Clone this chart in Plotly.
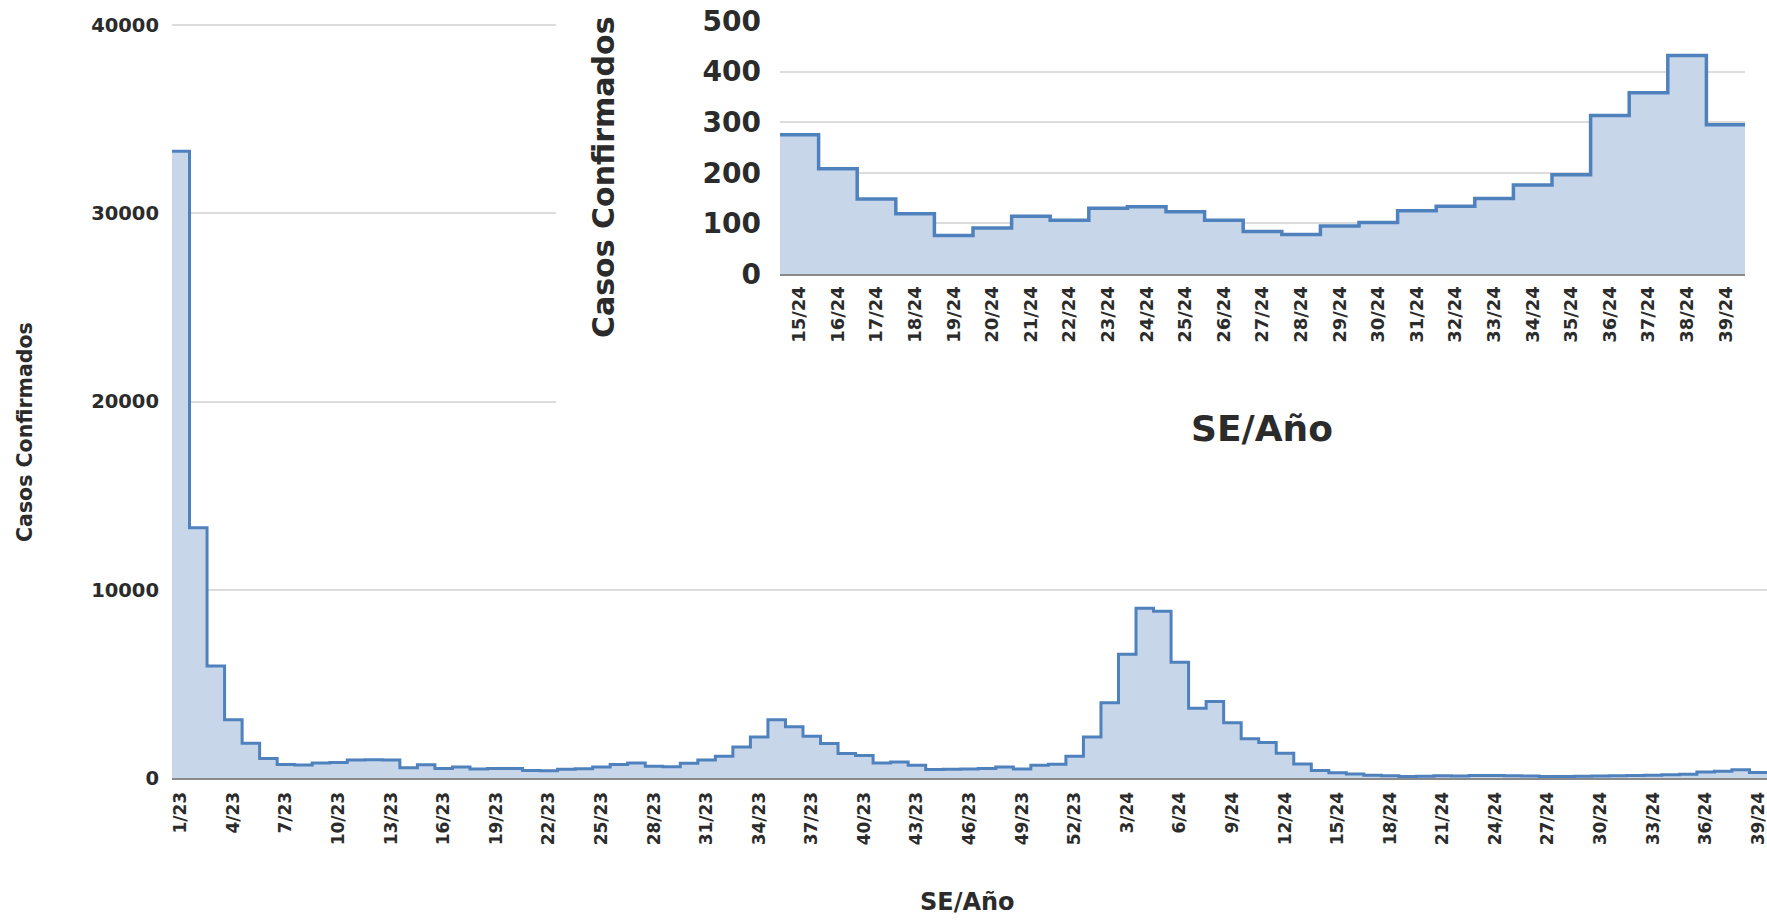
import plotly.graph_objects as go

# ---------------- data ----------------
semanas_2023 = [f"{w}/23" for w in range(1, 53)]
semanas_2024 = [f"{w}/24" for w in range(1, 40)]
semanas = semanas_2023 + semanas_2024

casos_main = [
    33300, 13300, 5950, 3100, 1850, 1030, 720, 690, 800, 830,
    960, 970, 950, 540, 710, 510, 590, 480, 500, 500,
    400, 390, 470, 490, 580, 720, 800, 620, 600, 780,
    960, 1150, 1650, 2180, 3100, 2720, 2220, 1830, 1300, 1200,
    800, 850, 675, 450, 470, 480, 500, 590, 480, 680,
    730, 1150, 2180, 4000, 6580, 9020, 8860, 6150, 3710, 4060,
    2940, 2080, 1880, 1320, 740, 400, 275, 208, 148, 119,
    76, 91, 114, 106, 130, 133, 123, 106, 84, 78,
    95, 102, 125, 134, 149, 176, 196, 313, 358, 432,
    295,
]

semanas_inset = [f"{w}/24" for w in range(15, 40)]
casos_inset = [
    275, 208, 148, 119, 76, 91, 114, 106, 130, 133,
    123, 106, 84, 78, 95, 102, 125, 134, 149, 176,
    196, 313, 358, 432, 295,
]

main_ticks = list(range(0, len(semanas), 3))
main_ticktext = [semanas[i] for i in main_ticks]

# ---------------- style ----------------
LINE = "#4F81BD"
FILL = "#C8D6EA"
GRID = "#DCDCDC"
TXT = "#2b2b2b"
FONT = "DejaVu Sans"

W, H = 1767, 923
L, R, T = 172, 0, 20
B = H - 778
YMAX = 40000 * (778 - T) / (778 - 25)


def step_xy(vals):
    n = len(vals)
    xs = [i - 0.5 for i in range(n)] + [n - 0.5]
    ys = list(vals) + [vals[-1]]
    return xs, ys


def px_x(p):
    return (p - L) / (W - L - R)


def px_y(p):
    return (H - B - p) / (H - B - T)


def dom(a, b):
    return [max(0.0, min(1.0, a)), max(0.0, min(1.0, b))]


fig = go.Figure()

mx, my = step_xy(casos_main)
fig.add_trace(go.Scatter(
    x=mx, y=my, mode="lines", line=dict(color=LINE, width=3, shape="hv"),
    fill="tozeroy", fillcolor=FILL, showlegend=False, hoverinfo="skip",
    xaxis="x", yaxis="y"))

# blank white panel (chart area of the inset) covering the main gridlines
fig.add_trace(go.Scatter(x=[None], y=[None], mode="lines", showlegend=False,
                         hoverinfo="skip", xaxis="x2", yaxis="y2"))

ix, iy = step_xy(casos_inset)
fig.add_trace(go.Scatter(
    x=ix, y=iy, mode="lines", line=dict(color=LINE, width=3.5, shape="hv"),
    fill="tozeroy", fillcolor=FILL, showlegend=False, hoverinfo="skip",
    xaxis="x3", yaxis="y3"))

fig.update_layout(
    width=W, height=H,
    margin=dict(l=L, r=R, t=T, b=B),
    paper_bgcolor="white", plot_bgcolor="white",
    showlegend=False,
    xaxis=dict(
        domain=[0, 1], range=[-0.5, len(semanas) - 0.5], tickmode="array",
        tickvals=main_ticks, ticktext=main_ticktext, tickangle=-90,
        showgrid=False, zeroline=False, showline=True, linecolor="#8a8a8a",
        linewidth=2, ticks="", ticklabelstandoff=5, ticklabeloverflow="allow",
        tickfont=dict(family=FONT, size=17, color=TXT, weight="bold"),
    ),
    yaxis=dict(
        domain=[0, 1], range=[0, YMAX], tickvals=[0, 10000, 20000, 30000, 40000],
        tickformat="d", showgrid=True, gridcolor=GRID, gridwidth=2,
        zeroline=False, showline=False, ticks="", ticklabelstandoff=12,
        ticklabeloverflow="allow",
        tickfont=dict(family=FONT, size=19.5, color=TXT, weight="bold"),
    ),
    xaxis2=dict(domain=dom(px_x(556), 1), visible=False, range=[0, 1], fixedrange=True),
    yaxis2=dict(domain=dom(px_y(480), 1), visible=False, range=[0, 1], fixedrange=True),
    xaxis3=dict(
        domain=dom(px_x(780), px_x(1745)), anchor="y3",
        range=[-0.5, len(semanas_inset) - 0.5], tickmode="array",
        tickvals=list(range(len(semanas_inset))), ticktext=semanas_inset,
        tickangle=-90, showgrid=False, zeroline=False, showline=True,
        linecolor="#8a8a8a", linewidth=2, ticks="", ticklabelstandoff=3,
        ticklabeloverflow="allow",
        tickfont=dict(family=FONT, size=18, color=TXT, weight="bold"),
    ),
    yaxis3=dict(
        domain=dom(px_y(274), px_y(21)), anchor="x3", range=[0, 500],
        tickvals=[0, 100, 200, 300, 400, 500], showgrid=True, gridcolor=GRID,
        gridwidth=2, zeroline=False, showline=False, ticks="",
        ticklabelstandoff=18, ticklabeloverflow="allow",
        tickfont=dict(family=FONT, size=28, color=TXT, weight="bold"),
    ),
    annotations=[
        dict(text="Casos Confirmados", xref="paper", yref="paper",
             x=px_x(25), y=px_y(432), xanchor="center", yanchor="middle",
             textangle=-90, showarrow=False,
             font=dict(family=FONT, size=20.5, color=TXT, weight="bold")),
        dict(text="SE/Año", xref="paper", yref="paper",
             x=px_x(967), y=px_y(902), xanchor="center", yanchor="middle",
             showarrow=False,
             font=dict(family=FONT, size=24, color=TXT, weight="bold")),
        dict(text="Casos Confirmados", xref="paper", yref="paper",
             x=px_x(604), y=px_y(177), xanchor="center", yanchor="middle",
             textangle=-90, showarrow=False,
             font=dict(family=FONT, size=30, color=TXT, weight="bold")),
        dict(text="SE/Año", xref="paper", yref="paper",
             x=px_x(1262), y=px_y(428), xanchor="center", yanchor="middle",
             showarrow=False,
             font=dict(family=FONT, size=36, color=TXT, weight="bold")),
    ],
)

fig.write_html("out.html", config={"displayModeBar": False},
               post_script="document.body.style.margin='0px';")
